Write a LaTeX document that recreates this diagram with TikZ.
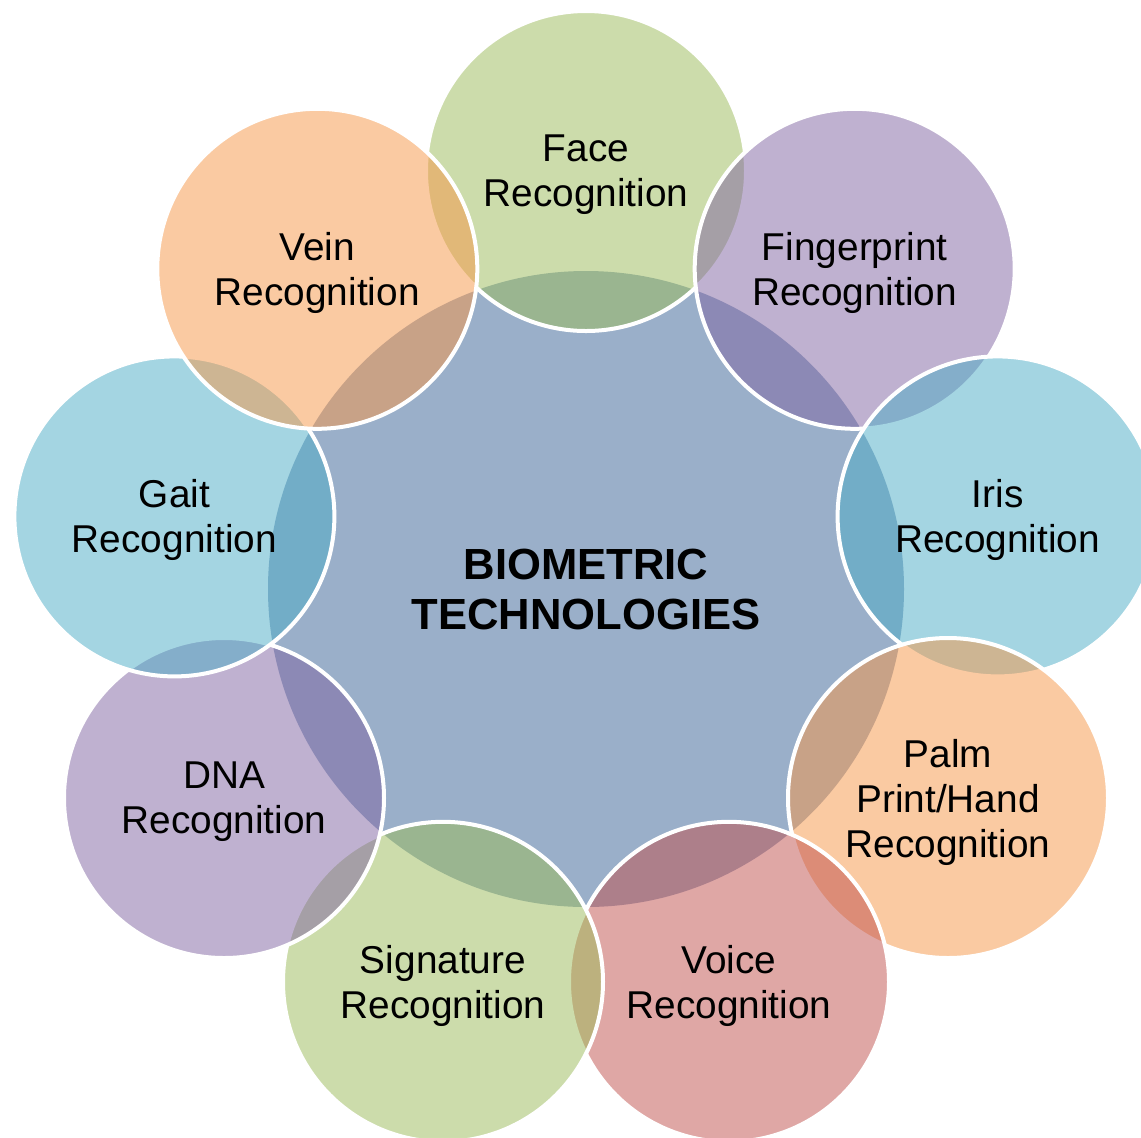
\documentclass[tikz,border=0pt]{standalone}
\usepackage{fontspec}
\setmainfont{Liberation Sans}
\definecolor{cgreen}{HTML}{9BBB59}
\definecolor{cpurple}{HTML}{8064A2}
\definecolor{caqua}{HTML}{4BACC6}
\definecolor{corange}{HTML}{F79646}
\definecolor{cred}{HTML}{C0504D}
\definecolor{ccenter}{RGB}{154,175,201}
\begin{document}
\begin{tikzpicture}[x=0.5pt,y=-0.5pt,
  hub/.style={circle,fill=ccenter,minimum size=318pt,inner sep=0pt},
  sat/.style={circle,draw=white,line width=2pt,fill opacity=0.5,draw opacity=1,minimum size=160pt,inner sep=0pt},
  lbl/.style={align=center,text=black,inner sep=0pt,yshift=-2pt,font=\fontsize{19.4}{22.5}\selectfont},
  hublbl/.style={align=center,text=black,inner sep=0pt,font=\bfseries\fontsize{21.8}{25}\selectfont}
]
\useasboundingbox (0,0) rectangle (1141,1137);
\fill[white] (0,0) rectangle (1141,1137);
\node[hub] (hub) at (586,589) {};
\node[sat,fill=cgreen]  (face)   at (586,171) {};
\node[sat,fill=cpurple] (finger) at (854.7,268.8) {};
\node[sat,fill=caqua]   (iris)   at (997.6,516.4) {};
\node[sat,fill=corange] (palm)   at (948,798) {};
\node[sat,fill=cred]    (voice)  at (729,981.8) {};
\node[sat,fill=cgreen]  (sign)   at (443,981.8) {};
\node[sat,fill=cpurple] (dna)    at (224,798) {};
\node[sat,fill=caqua]   (gait)   at (174.4,516.4) {};
\node[sat,fill=corange] (vein)   at (317.3,268.8) {};
\node[hublbl] (hubT) at (hub) {BIOMETRIC\\TECHNOLOGIES};
\node[lbl] (faceT) at (face) {Face\\Recognition};
\node[lbl] (fingerT) at (finger) {Fingerprint\\Recognition};
\node[lbl] (irisT) at (iris) {Iris\\Recognition};
\node[lbl] (palmT) at (palm) {Palm\\Print/Hand\\Recognition};
\node[lbl] (voiceT) at (voice) {Voice\\Recognition};
\node[lbl] (signT) at (sign) {Signature\\Recognition};
\node[lbl] (dnaT) at (dna) {DNA\\Recognition};
\node[lbl] (gaitT) at (gait) {Gait\\Recognition};
\node[lbl] (veinT) at (vein) {Vein\\Recognition};
\end{tikzpicture}
\end{document}
